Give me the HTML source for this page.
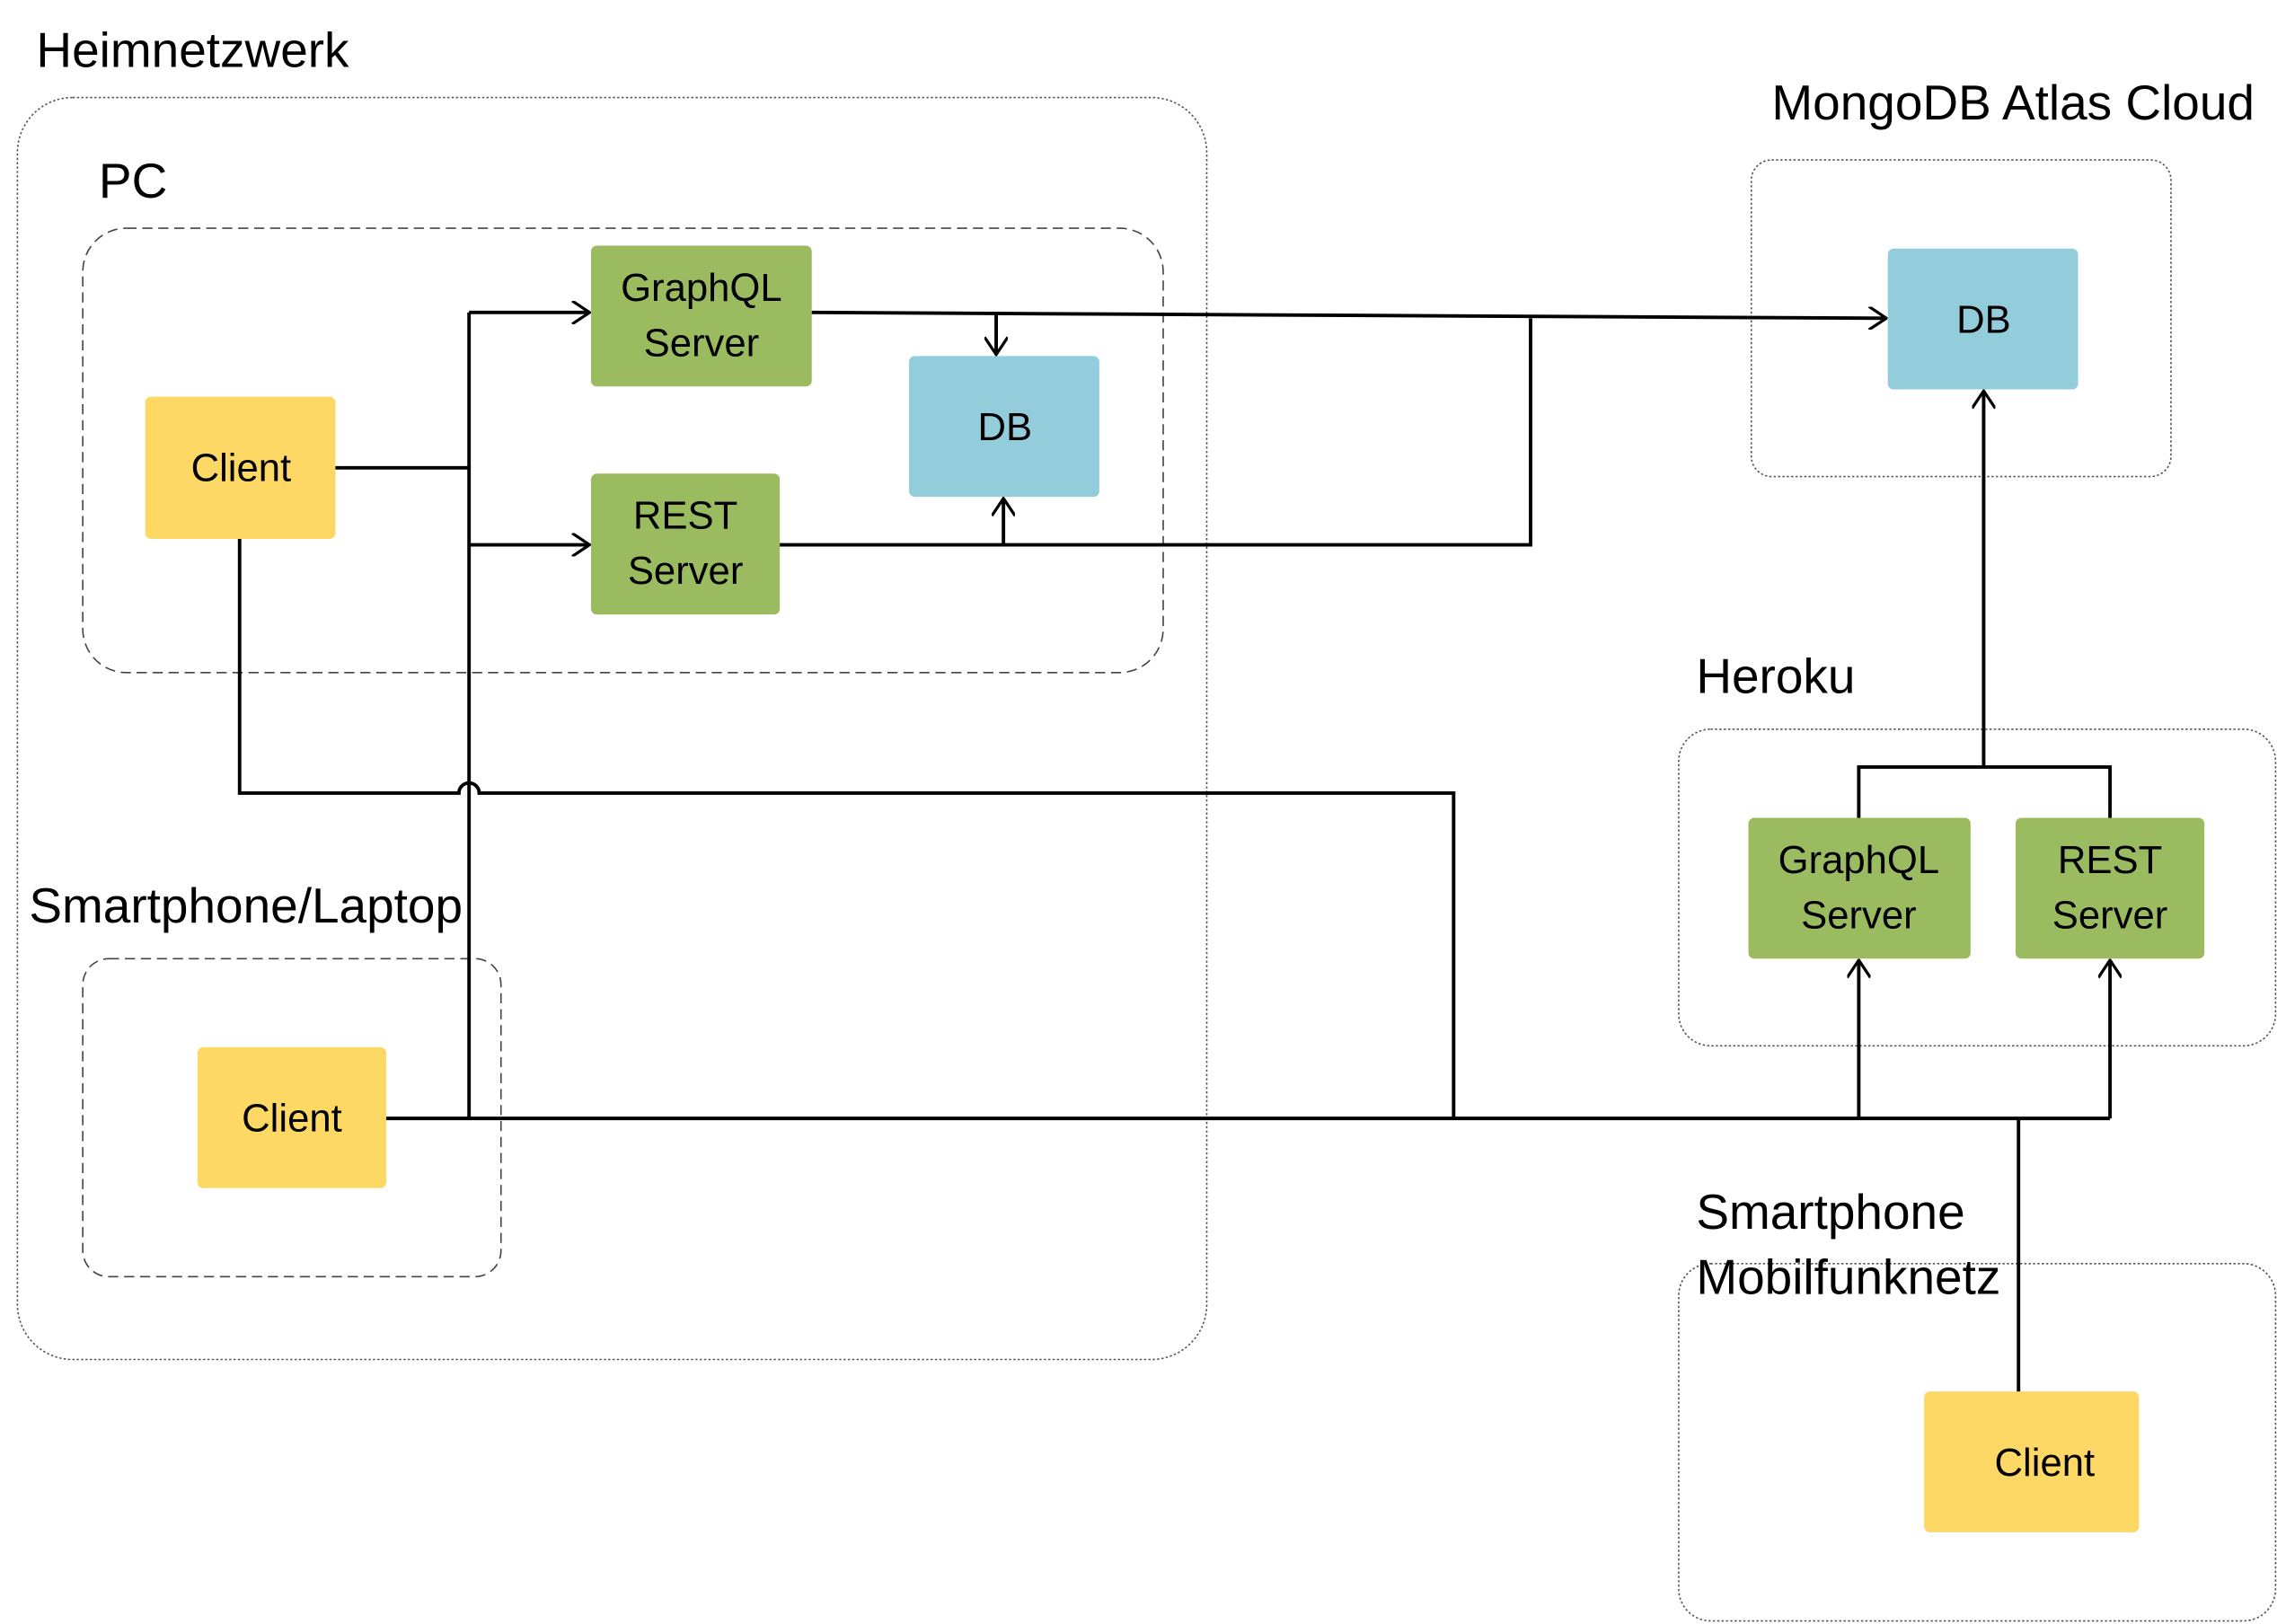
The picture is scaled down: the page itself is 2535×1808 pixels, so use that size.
<!DOCTYPE html>
<html><head><meta charset="utf-8"><style>
html,body{margin:0;padding:0;background:#fff;}
svg{display:block;}
text{font-family:"Liberation Sans",sans-serif;fill:#000;}
.lbl{font-size:34px;}
.bx{font-size:27px;text-anchor:middle;}
.ln{stroke:#000;stroke-width:2.4;fill:none;}
</style></head><body>
<svg width="2535" height="1808" viewBox="0 0 1568 1118" xmlns="http://www.w3.org/2000/svg">
<defs>
<marker id="a" viewBox="0 0 14 16" refX="13" refY="8" markerWidth="14" markerHeight="16" markerUnits="userSpaceOnUse" orient="auto">
<path d="M1,0 L13,8 L1,16" fill="none" stroke="#000" stroke-width="2"/></marker>
</defs>
<rect x="12" y="67" width="819" height="869" rx="38" fill="none" stroke="#555" stroke-width="1" stroke-dasharray="1.5,1.5"/>
<rect x="57" y="157" width="744" height="306" rx="30" fill="none" stroke="#444" stroke-width="1" stroke-dasharray="7,4"/>
<rect x="57" y="660" width="288" height="219" rx="18" fill="none" stroke="#444" stroke-width="1" stroke-dasharray="7,4"/>
<rect x="1206" y="110" width="289" height="218" rx="14" fill="none" stroke="#555" stroke-width="1" stroke-dasharray="1.5,1.5"/>
<rect x="1156" y="502" width="411" height="218" rx="22" fill="none" stroke="#555" stroke-width="1" stroke-dasharray="1.5,1.5"/>
<rect x="1156" y="870" width="411" height="246" rx="22" fill="none" stroke="#555" stroke-width="1" stroke-dasharray="1.5,1.5"/>
<text class="lbl" x="25" y="46">Heimnetzwerk</text>
<text class="lbl" x="68" y="136">PC</text>
<text class="lbl" x="1220" y="82">MongoDB Atlas Cloud</text>
<text class="lbl" x="1168" y="477">Heroku</text>
<text class="lbl" x="20" y="635">Smartphone/Laptop</text>
<text class="lbl" x="1168" y="846">Smartphone</text>
<text class="lbl" x="1168" y="891">Mobilfunknetz</text>
<rect x="407" y="169" width="152" height="97" rx="4" fill="#9bbb61"/>
<text class="bx" x="483" y="207">GraphQL</text><text class="bx" x="483" y="245">Server</text>
<rect x="407" y="326" width="130" height="97" rx="4" fill="#9bbb61"/>
<text class="bx" x="472" y="364">REST</text><text class="bx" x="472" y="402">Server</text>
<rect x="100" y="273" width="131" height="98" rx="4" fill="#fdd865"/>
<text class="bx" x="166" y="331">Client</text>
<rect x="626" y="245" width="131" height="97" rx="4" fill="#93cddb"/>
<text class="bx" x="692" y="303">DB</text>
<rect x="1300" y="171" width="131" height="97" rx="4" fill="#93cddb"/>
<text class="bx" x="1366" y="229">DB</text>
<rect x="1204" y="563" width="153" height="97" rx="4" fill="#9bbb61"/>
<text class="bx" x="1280" y="601">GraphQL</text><text class="bx" x="1280" y="639">Server</text>
<rect x="1388" y="563" width="130" height="97" rx="4" fill="#9bbb61"/>
<text class="bx" x="1453" y="601">REST</text><text class="bx" x="1453" y="639">Server</text>
<rect x="136" y="721" width="130" height="97" rx="4" fill="#fdd865"/>
<text class="bx" x="201" y="779">Client</text>
<rect x="1325" y="958" width="148" height="97" rx="4" fill="#fdd865"/>
<text class="bx" x="1408" y="1016">Client</text>
<path class="ln" d="M231,322 H323"/>
<path class="ln" d="M323,215 V770"/>
<path class="ln" d="M323,215 H406" marker-end="url(#a)"/>
<path class="ln" d="M323,375 H406" marker-end="url(#a)"/>
<path class="ln" d="M559,215 L1299,219" marker-end="url(#a)"/>
<path class="ln" d="M686,216 V244" marker-end="url(#a)"/>
<path class="ln" d="M537,375 H1054 V219"/>
<path class="ln" d="M691,375 V343" marker-end="url(#a)"/>
<path class="ln" d="M165,371 V546 H316 A7,7 0 0 1 330,546 H1001 V770"/>
<path class="ln" d="M266,770 H1453"/>
<path class="ln" d="M1280,770 V661" marker-end="url(#a)"/>
<path class="ln" d="M1453,770 V661" marker-end="url(#a)"/>
<path class="ln" d="M1390,958 V770"/>
<path class="ln" d="M1280,563 V528 H1453 V563"/>
<path class="ln" d="M1366,528 V269" marker-end="url(#a)"/>
</svg>
</body></html>
